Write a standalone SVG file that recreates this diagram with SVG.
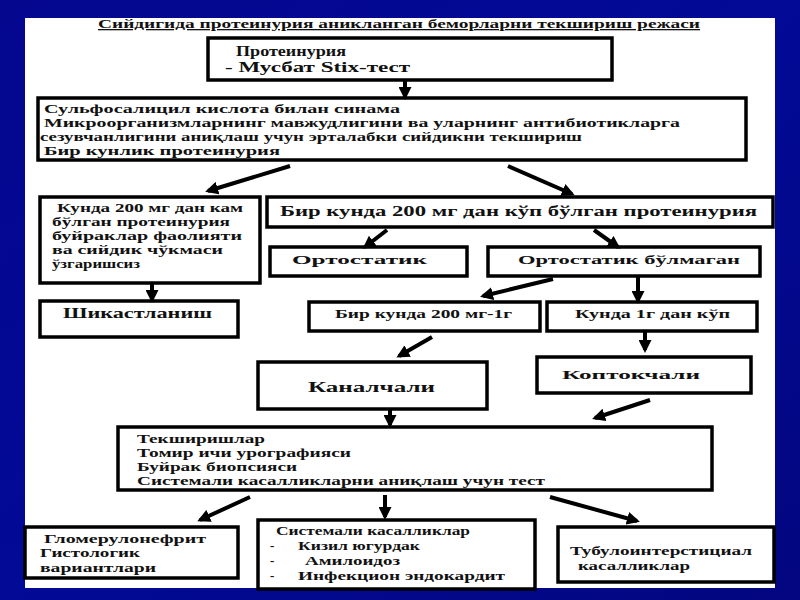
<svg xmlns="http://www.w3.org/2000/svg" width="800" height="600" viewBox="0 0 800 600">
<defs>
<linearGradient id="bg" x1="0" y1="0" x2="1" y2="1">
<stop offset="0" stop-color="#05078f"/>
<stop offset="0.5" stop-color="#020a96"/>
<stop offset="1" stop-color="#03067f"/>
</linearGradient>
<marker id="ah" viewBox="0 0 13 13" refX="10" refY="6.5" markerWidth="13" markerHeight="13" markerUnits="userSpaceOnUse" orient="auto">
<path d="M0,0 L13,6.5 L0,13 z" fill="#000"/>
</marker>
<style>
.box{fill:#fff;stroke:#000;stroke-width:3.5}
.t{font-family:"Liberation Serif","Times New Roman",serif;font-weight:bold;font-size:13px;fill:#111}
.tb{font-family:"Liberation Serif","Times New Roman",serif;font-weight:bold;font-size:14.5px;fill:#111}
.tm{font-family:"Liberation Serif","Times New Roman",serif;font-weight:bold;font-size:12.5px;fill:#111}
.c{stroke:#000;stroke-width:4;fill:none;marker-end:url(#ah)}
</style>
</defs>
<rect width="800" height="600" fill="url(#bg)"/>
<rect x="25" y="18" width="750" height="570" fill="#fff"/>
<text class="t" x="98" y="28" textLength="602" lengthAdjust="spacingAndGlyphs" text-decoration="underline" fill="#333">Сийдигида протеинурия аникланган беморларни текшириш режаси</text>

<g id="n1">
<rect class="box" x="208" y="38" width="404" height="42"/>
<text class="tb" x="236" y="56" textLength="110" lengthAdjust="spacingAndGlyphs">Протеинурия</text>
<text class="tb" x="225" y="72" textLength="185" lengthAdjust="spacingAndGlyphs">- Мусбат  Stix-тест</text>
</g>
<g id="n2">
<rect class="box" x="38" y="98" width="708" height="62"/>
<text class="t" x="44" y="113" textLength="356" lengthAdjust="spacingAndGlyphs">Сульфосалицил кислота билан синама</text>
<text class="t" x="44" y="127" textLength="636" lengthAdjust="spacingAndGlyphs">Микроорганизмларнинг мавжудлигини ва уларнинг антибиотикларга</text>
<text class="t" x="40" y="141" textLength="542" lengthAdjust="spacingAndGlyphs">сезувчанлигини аниқлаш учун эрталабки сийдикни текшириш</text>
<text class="t" x="44" y="155" textLength="236" lengthAdjust="spacingAndGlyphs">Бир кунлик протеинурия</text>
</g>
<g id="n3">
<rect class="box" x="40" y="197" width="220" height="86"/>
<text class="tm" x="57" y="212" textLength="186" lengthAdjust="spacingAndGlyphs">Кунда 200 мг дан кам</text>
<text class="tm" x="52" y="226" textLength="178" lengthAdjust="spacingAndGlyphs">бўлган протеинурия</text>
<text class="tm" x="52" y="240" textLength="190" lengthAdjust="spacingAndGlyphs">буйраклар фаолияти</text>
<text class="tm" x="52" y="254" textLength="171" lengthAdjust="spacingAndGlyphs">ва сийдик  чўкмаси</text>
<text class="tm" x="52" y="268" textLength="88" lengthAdjust="spacingAndGlyphs">ўзгаришсиз</text>
</g>
<g id="n4">
<rect class="box" x="40" y="301" width="198" height="36"/>
<text class="tb" x="63" y="318" textLength="149" lengthAdjust="spacingAndGlyphs">Шикастланиш</text>
</g>
<g id="n5">
<rect class="box" x="267" y="197" width="506" height="30"/>
<text class="tb" x="280" y="216" textLength="477" lengthAdjust="spacingAndGlyphs">Бир кунда 200 мг дан кўп бўлган протеинурия</text>
</g>
<g id="n6">
<rect class="box" x="270" y="247" width="197" height="29"/>
<text class="t" x="292" y="264" textLength="135" lengthAdjust="spacingAndGlyphs">Ортостатик</text>
</g>
<g id="n7">
<rect class="box" x="488" y="247" width="272" height="29"/>
<text class="t" x="518" y="264" textLength="222" lengthAdjust="spacingAndGlyphs">Ортостатик бўлмаган</text>
</g>
<g id="n8">
<rect class="box" x="309" y="302" width="231" height="29"/>
<text class="t" x="335" y="318" textLength="177" lengthAdjust="spacingAndGlyphs">Бир кунда 200 мг-1г</text>
</g>
<g id="n9">
<rect class="box" x="547" y="302" width="210" height="29"/>
<text class="t" x="575" y="318" textLength="155" lengthAdjust="spacingAndGlyphs">Кунда  1г дан кўп</text>
</g>
<g id="n10">
<rect class="box" x="258" y="362" width="229" height="47"/>
<text class="tb" x="308" y="392" textLength="127" lengthAdjust="spacingAndGlyphs">Каналчали</text>
</g>
<g id="n11">
<rect class="box" x="537" y="357" width="214" height="36"/>
<text class="t" x="562" y="379" textLength="138" lengthAdjust="spacingAndGlyphs">Коптокчали</text>
</g>
<g id="n12">
<rect class="box" x="118" y="427" width="594" height="63"/>
<text class="t" x="137" y="443" textLength="128" lengthAdjust="spacingAndGlyphs">Текширишлар</text>
<text class="t" x="137" y="457" textLength="214" lengthAdjust="spacingAndGlyphs">Томир ичи урографияси</text>
<text class="t" x="137" y="471" textLength="160" lengthAdjust="spacingAndGlyphs">Буйрак биопсияси</text>
<text class="t" x="137" y="485" textLength="408" lengthAdjust="spacingAndGlyphs">Системали касалликларни аниқлаш учун тест</text>
</g>
<g id="n13">
<rect class="box" x="25" y="527" width="213" height="51"/>
<text class="t" x="44" y="543" textLength="162" lengthAdjust="spacingAndGlyphs">Гломерулонефрит</text>
<text class="t" x="40" y="557" textLength="100" lengthAdjust="spacingAndGlyphs">Гистологик</text>
<text class="t" x="40" y="572" textLength="116" lengthAdjust="spacingAndGlyphs">вариантлари</text>
</g>
<g id="n14">
<rect class="box" x="258" y="520" width="277" height="69"/>
<text class="t" x="276" y="535" textLength="194" lengthAdjust="spacingAndGlyphs">Системали касалликлар</text>
<text class="t" x="270" y="550">-</text>
<text class="t" x="298" y="550" textLength="122" lengthAdjust="spacingAndGlyphs">Кизил югурдак</text>
<text class="t" x="270" y="565">-</text>
<text class="t" x="305" y="565" textLength="95" lengthAdjust="spacingAndGlyphs">Амилоидоз</text>
<text class="t" x="270" y="580">-</text>
<text class="t" x="298" y="580" textLength="207" lengthAdjust="spacingAndGlyphs">Инфекцион эндокардит</text>
</g>
<g id="n15">
<rect class="box" x="558" y="527" width="216" height="55"/>
<text class="t" x="570" y="555" textLength="182" lengthAdjust="spacingAndGlyphs">Тубулоинтерстициал</text>
<text class="t" x="578" y="570" textLength="112" lengthAdjust="spacingAndGlyphs">касалликлар</text>
</g>

<g id="connectors">
<line class="c" x1="405" y1="80" x2="405" y2="97"/>
<line class="c" x1="290" y1="166" x2="208" y2="191"/>
<line class="c" x1="508" y1="166" x2="572" y2="194"/>
<line class="c" x1="152" y1="283" x2="152" y2="300"/>
<line class="c" x1="387" y1="230" x2="365" y2="247"/>
<line class="c" x1="594" y1="230" x2="618" y2="247"/>
<line class="c" x1="553" y1="279" x2="483" y2="296"/>
<line class="c" x1="638" y1="276" x2="638" y2="301"/>
<line class="c" x1="432" y1="337" x2="399" y2="356"/>
<line class="c" x1="645" y1="332" x2="645" y2="350"/>
<line class="c" x1="390" y1="410" x2="390" y2="425"/>
<line class="c" x1="650" y1="400" x2="595" y2="418"/>
<line class="c" x1="250" y1="497" x2="200" y2="520"/>
<line class="c" x1="385" y1="495" x2="385" y2="517"/>
<line class="c" x1="550" y1="497" x2="637" y2="521"/>
</g>
</svg>
